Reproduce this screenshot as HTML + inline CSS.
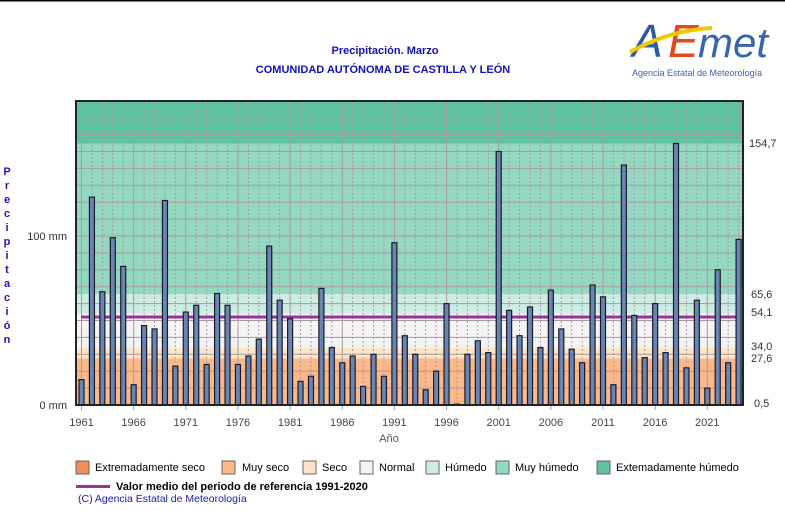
<!DOCTYPE html>
<html><head><meta charset="utf-8"><style>
body{margin:0;background:#fff;width:785px;height:506px;overflow:hidden;font-family:"Liberation Sans",sans-serif}
</style></head><body>
<svg id="s" width="785" height="506" xmlns="http://www.w3.org/2000/svg" font-family="Liberation Sans, sans-serif">
<rect x="0" y="0" width="785" height="1.5" fill="#000"/>
<text x="385" y="54" font-size="11" font-weight="bold" fill="#1010c0" text-anchor="middle">Precipitación. Marzo</text>
<text x="383" y="73" font-size="11" font-weight="bold" fill="#1010c0" text-anchor="middle">COMUNIDAD AUTÓNOMA DE CASTILLA Y LEÓN</text>
<g font-size="44" font-style="italic">
<text x="632" y="57" fill="#2a5aa8" font-size="46">A</text>
<text x="668" y="57" fill="#e04a1a" font-size="46">E</text>
<text x="698" y="57" fill="#3a64b0" font-size="42">met</text>
<path d="M630 52 Q670 30 712 28" stroke="#f0c800" stroke-width="4" fill="none"/>
</g>
<text x="632" y="76" font-size="9" fill="#3a64b0">Agencia Estatal de Meteorología</text>
<g id="plot"></g>
<g font-size="11" fill="#1a1ab0" font-weight="bold" text-anchor="middle">
<text x="7" y="175">P</text><text x="7" y="189">r</text><text x="7" y="203">e</text><text x="7" y="217">c</text><text x="7" y="231">i</text><text x="7" y="245">p</text><text x="7" y="259">i</text><text x="7" y="273">t</text><text x="7" y="287">a</text><text x="7" y="301">c</text><text x="7" y="315">i</text><text x="7" y="329">ó</text><text x="7" y="343">n</text>
</g>
<g font-size="11" fill="#333">
<text x="67" y="240" text-anchor="end">100 mm</text>
<text x="67" y="409" text-anchor="end">0 mm</text>
<text x="749" y="147">154,7</text><text x="751" y="298">65,6</text><text x="751" y="316">54,1</text>
<text x="751" y="350">34,0</text><text x="751" y="362">27,6</text><text x="754" y="407">0,5</text>
<text x="389" y="442" text-anchor="middle" fill="#555">Año</text>
</g>
<g font-size="11" fill="#000">
<rect x="76" y="461" width="13" height="13" fill="#f08e5a" stroke="#666"/><text x="95" y="471">Extremadamente seco</text>
<rect x="222" y="461" width="13" height="13" fill="#fbb98a" stroke="#666"/><text x="242" y="471">Muy seco</text>
<rect x="303" y="461" width="13" height="13" fill="#fde5c7" stroke="#666"/><text x="322" y="471">Seco</text>
<rect x="360" y="461" width="13" height="13" fill="#f4f4f4" stroke="#666"/><text x="379" y="471">Normal</text>
<rect x="426" y="461" width="13" height="13" fill="#cdede4" stroke="#666"/><text x="445" y="471">Húmedo</text>
<rect x="496" y="461" width="13" height="13" fill="#95d8c1" stroke="#666"/><text x="515" y="471">Muy húmedo</text>
<rect x="597" y="461" width="13" height="13" fill="#5fc2a0" stroke="#666"/><text x="616" y="471">Extemadamente húmedo</text>
<rect x="76" y="485" width="34" height="3" fill="#993399"/><text x="116" y="490" font-weight="bold">Valor medio del periodo de referencia 1991-2020</text>
<text x="78" y="502" fill="#1a1ab0" font-size="10.5">(C) Agencia Estatal de Meteorología</text>
</g>
</svg>
<script>
var L=76,R=743,T=101,B=405,k=1.69;function Y(v){return B-v*k}
var h='';
function band(a,b,c){h+='<rect x="'+L+'" y="'+Y(b)+'" width="'+(R-L)+'" height="'+(Y(a)-Y(b))+'" fill="'+c+'"/>'}
band(0,27.6,'#fbb98a');band(27.6,34,'#fde5c7');band(34,54.1,'#f4f4f4');band(54.1,65.6,'#cdede4');band(65.6,154.7,'#95d8c1');band(154.7,180,'#5fc2a0');
for(var m=10;m<180;m+=10)h+='<line x1="'+L+'" x2="'+R+'" y1="'+Y(m)+'" y2="'+Y(m)+'" stroke="#a89aa0" stroke-width="1"/>';
var dx=10.43;
for(var i=0;i<64;i++){var x=81+i*dx+0.5;var yr=1961+i;
 if((yr-1961)%5==0){h+='<line x1="'+x+'" x2="'+x+'" y1="'+T+'" y2="'+(B+5)+'" stroke="#a89aa0"/>';h+='<text x="'+x+'" y="426" font-size="11" fill="#444" text-anchor="middle">'+yr+'</text>'}
 else h+='<line x1="'+x+'" x2="'+x+'" y1="'+T+'" y2="'+B+'" stroke="#a89aa0" stroke-dasharray="2,2"/>';}
h+='<line x1="81" x2="737" y1="317" y2="317" stroke="#993399" stroke-width="3"/>';
var v=[15,123,67,99,82,12,47,45,121,23,55,59,24,66,59,24,29,39,94,62,51,14,17,69,34,25,29,11,30,17,96,41,30,9,20,60,0.5,30,38,31,150,56,41,58,34,68,45,33,25,71,64,12,142,53,28,60,31,154.7,22,62,10,80,25,98];
for(var i=0;i<64;i++){var x=81+i*dx;h+='<rect x="'+(x-2)+'" y="'+Y(v[i])+'" width="5" height="'+(v[i]*k)+'" fill="#6a86b0" stroke="#1a1a2a" stroke-width="1.2"/>'}
h+='<rect x="'+L+'" y="'+T+'" width="'+(R-L)+'" height="'+(B-T)+'" fill="none" stroke="#222" stroke-width="2"/>';
document.getElementById('plot').innerHTML=h;
</script>
</body></html>
